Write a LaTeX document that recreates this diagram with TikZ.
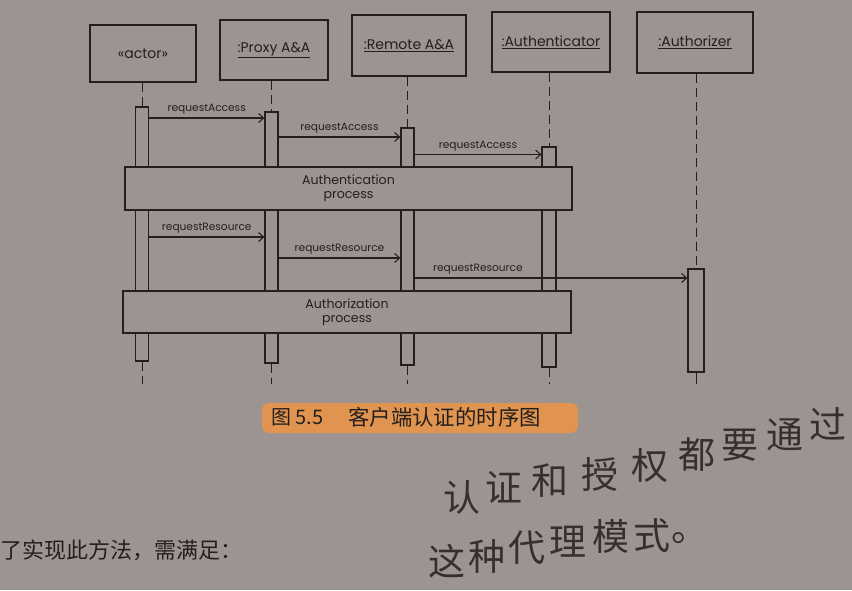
\documentclass[tikz,border=0pt]{standalone}
\usepackage{fontspec}
\setmainfont{Poppins}
\newfontfamily\cjk{Noto Sans CJK SC}
\usetikzlibrary{arrows.meta}
\definecolor{paper}{RGB}{155,148,144}
\definecolor{ink}{RGB}{36,31,29}
\definecolor{marker}{RGB}{232,148,72}
\tikzset{
  headbox/.style={draw=ink, line width=1.3pt, inner sep=0pt, text=ink, font=\fontsize{14}{16}\selectfont},
  actbox/.style={draw=ink, line width=1.2pt, inner sep=0pt, minimum width=13pt},
  procbox/.style={draw=ink, fill=paper, line width=1.5pt, inner sep=0pt, align=center, text=ink, font=\fontsize{12.6}{14}\selectfont},
  life/.style={draw=ink, line width=1pt, dash pattern=on 9pt off 5pt},
  msg/.style={draw=ink, line width=1.1pt, -{Straight Barb[length=5pt,width=9pt,line width=1.1pt]}},
  lbl/.style={text=ink, font=\fontsize{10.6}{12}\selectfont, inner sep=1pt},
  hand/.style={text=ink, font=\cjk\fontsize{37}{40}\selectfont, inner sep=0pt, opacity=0.85}
}
\newcommand{\ulname}[1]{\underline{#1}}
\begin{document}
\begin{tikzpicture}[x=1pt,y=-1pt]
\fill[paper] (0,0) rectangle (852,590);
\useasboundingbox (0,0) rectangle (852,590);

% heads
\node[headbox, minimum width=106pt, minimum height=57pt] (hA) at (143,53.5) {«actor»};
\node[headbox, minimum width=108pt, minimum height=60pt] (hP) at (274,50) {\ulname{:Proxy A\&A}};
\node[headbox, minimum width=114pt, minimum height=61pt] (hR) at (409,45.5) {\ulname{:Remote A\&A}};
\node[headbox, minimum width=118pt, minimum height=60pt] (hU) at (551,42) {\ulname{:Authenticator}};
\node[headbox, minimum width=116pt, minimum height=61pt] (hZ) at (695,42.5) {\ulname{:Authorizer}};

% activations
\node[actbox, minimum height=254pt] (aA) at (142,234) {};
\node[actbox, minimum height=251pt] (aP) at (271.5,237.5) {};
\node[actbox, minimum height=237pt] (aR) at (407.5,246.5) {};
\node[actbox, minimum height=220pt, minimum width=14pt] (aU) at (549,257) {};
\node[actbox, minimum height=103pt, minimum width=16pt] (aZ) at (696,320.5) {};

% lifeline ends
\coordinate (eA) at (142,384);
\coordinate (eP) at (271.5,384);
\coordinate (eR) at (407.5,384);
\coordinate (eU) at (549,384);
\coordinate (eZ) at (696,384);

\draw[life] (hA.south -| aA.north) -- (aA.north);
\draw[life] (hP.south -| aP.north) -- (aP.north);
\draw[life] (hR.south -| aR.north) -- (aR.north);
\draw[life] (hU.south -| aU.north) -- (aU.north);
\draw[life] (hZ.south -| aZ.north) -- (aZ.north);
\draw[life] (aA.south) -- (eA);
\draw[life] (aP.south) -- (eP);
\draw[life] (aR.south) -- (eR);
\draw[life] (aU.south) -- (eU);
\draw[line width=1pt, ink] (aZ.south) -- (eZ);

% message rows
\coordinate (m1) at (0,118);
\coordinate (m2) at (0,137);
\coordinate (m3) at (0,154.5);
\coordinate (m4) at (0,237);
\coordinate (m5) at (0,258);
\coordinate (m6) at (0,278);

\draw[msg] (aA.east |- m1) -- node[lbl, above=2pt] {requestAccess} (aP.west |- m1);
\draw[msg] (aP.east |- m2) -- node[lbl, above=2pt] {requestAccess} (aR.west |- m2);
\draw[msg] (aR.east |- m3) -- node[lbl, above=2pt] {requestAccess} (aU.west |- m3);
\draw[msg] (aA.east |- m4) -- node[lbl, above=2pt] {requestResource} (aP.west |- m4);
\draw[msg] (aP.east |- m5) -- node[lbl, above=2pt] {requestResource} (aR.west |- m5);
\draw[msg] (aR.east |- m6) -- node[lbl, anchor=south west, pos=0, xshift=17pt, yshift=2pt] {requestResource} (aZ.west |- m6);

% process boxes
\node[procbox, minimum width=447pt, minimum height=43pt] (pAuth) at (348.5,188.5) {Authentication\\process};
\node[procbox, minimum width=448pt, minimum height=42pt] (pAuthz) at (347,312) {Authorization\\process};

% caption
\fill[marker, opacity=0.9, rounded corners=7pt] (262,403) rectangle (578,433);
\node[anchor=west, text=ink, font=\cjk\fontsize{20}{22}\selectfont, inner sep=0pt] (capnum) at (271,417) {图 5.5};
\node[anchor=west, text=ink, font=\cjk\fontsize{21.4}{23}\selectfont, inner sep=0pt] (captxt) at (348,417) {客户端认证的时序图};

% handwriting, one character at a time along a rising line
\foreach \c/\x/\y [count=\i] in {认/462/497, 证/504/487, 和/550/481, 授/600/474, 权/650/466, 都/697/455, 要/740/445, 通/785/435, 过/828/424}
  \node[hand] (hwa\i) at (\x,\y) {\c};
\foreach \c/\x/\y [count=\i] in {这/447/561, 种/487/556, 代/527/548, 理/568/542, 模/611/536, 式/652/536, 。/690/538}
  \node[hand] (hwb\i) at (\x,\y) {\c};

% body text
\node[anchor=west, text=ink, font=\cjk\fontsize{22}{24}\selectfont, inner sep=0pt] (body1) at (0,550) {了实现此方法，需满足：};
\end{tikzpicture}
\end{document}
